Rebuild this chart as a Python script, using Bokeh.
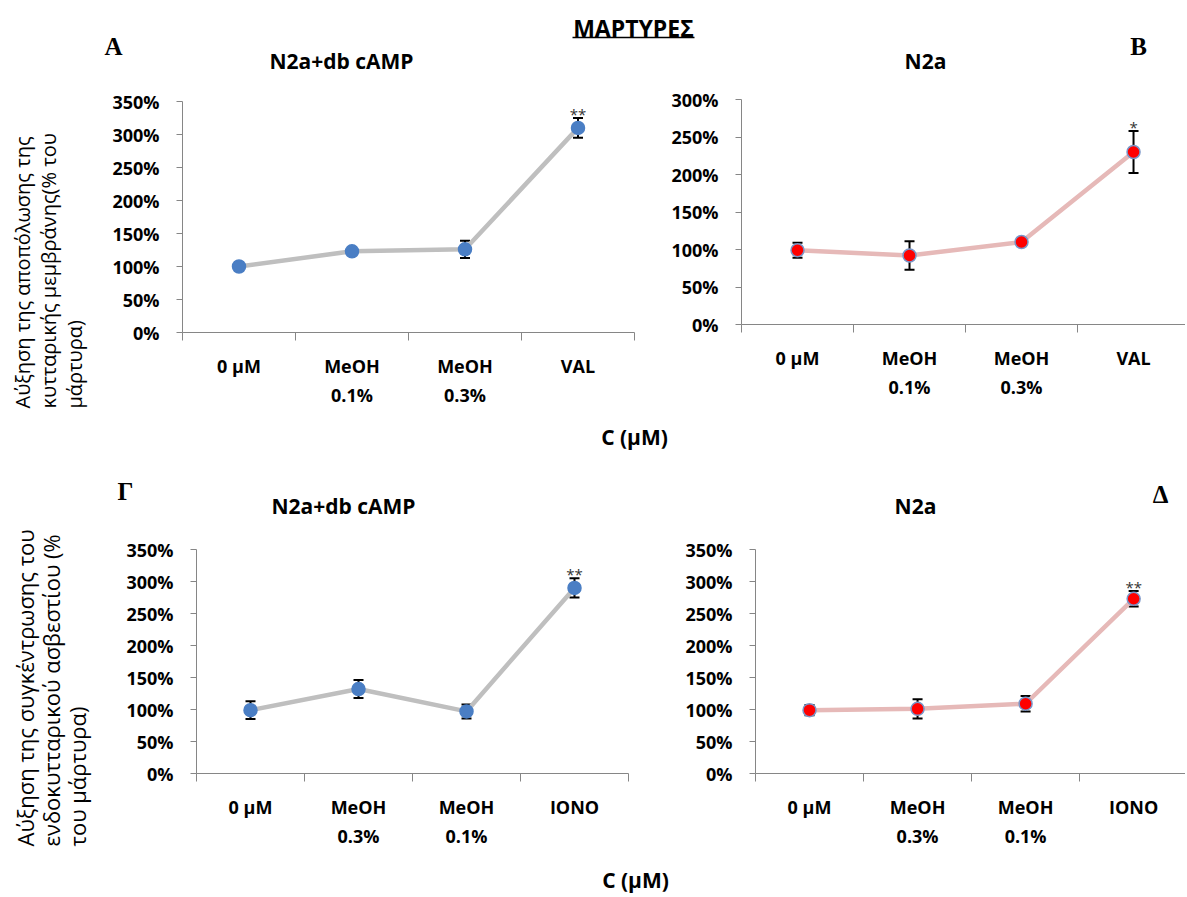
import numpy as np
from bokeh.plotting import figure
from bokeh.models import (Range1d, FixedTicker, Whisker, TeeHead, ColumnDataSource, Label)
from bokeh.core.properties import value
from bokeh.layouts import column, row
from bokeh.embed import file_html
from bokeh.resources import INLINE

# ---------------- data ----------------
cats_top = ["0 µM", "MeOH\n0.1%", "MeOH\n0.3%", "VAL"]
cats_bot = ["0 µM", "MeOH\n0.3%", "MeOH\n0.1%", "IONO"]

A_mean = [100, 123, 126, 310]
A_err = [6, 3, 13, 15]
B_mean = [99, 92, 110, 230]
B_err = [10, 19, 2, 28]
G_mean = [99, 132, 97, 290]
G_err = [14, 14, 11, 15]
D_mean = [99, 101, 109, 273]
D_err = [8, 15, 12, 12]

A_star = "**"
B_star = "*"
G_star = "**"
D_star = "**"

yticks_350 = [0, 50, 100, 150, 200, 250, 300, 350]
yticks_300 = [0, 50, 100, 150, 200, 250, 300]

main_title = "ΜΑΡΤΥΡΕΣ"
x_title = "C (µM)"
title_camp = "N2a+db cAMP"
title_n2a = "N2a"
ylab_top = ["Αύξηση της αποπόλωσης της", "κυτταρικής μεμβράνης(% του", "μάρτυρα)"]
ylab_bot = ["Αύξηση της συγκέντρωσης του", "ενδοκυτταρικού ασβεστίου (%", "του μάρτυρα)"]

# ---------------- style ----------------
FONT = "Open Sans"
SERIF = "Liberation Serif"
AXIS_COL = "#868686"
TOTAL_W = 1185


def bare(w, h, x0, y0):
    """A figure whose frame covers its whole canvas, mapped to page pixels."""
    p = figure(width=w, height=h, x_range=Range1d(x0, x0 + w), y_range=Range1d(y0 + h, y0),
               output_backend="svg", toolbar_location=None, title=None,
               x_axis_location=None, y_axis_location=None,
               min_border_left=0, min_border_right=0, min_border_top=0, min_border_bottom=0)
    p.outline_line_color = None
    p.grid.visible = False
    return p


def txt(p, x, y, text, size, bold=True, font=FONT, **kw):
    p.add_layout(Label(x=x, y=y, text=text, text_font=font,
                       text_font_style="bold" if bold else "normal",
                       text_font_size=size, text_color="black",
                       text_align=kw.pop("align", "center"),
                       text_baseline=kw.pop("baseline", "middle"), **kw))


def ylabel_lines(p, lines, xs, ybottom, size):
    p.text(x=xs, y=[ybottom] * len(lines), text=lines, angle=np.pi / 2,
           text_align="left", text_baseline="middle", text_font=value(FONT),
           text_font_size=size, text_color="black")


def panel(w, h, frame, xend, ymax, yticks, cats, mean, err, star,
          line_col, fill_col, edge_col):
    fx0, fx1, fy_top, fy_bot, ox, oy = frame
    p = figure(width=w, height=h, x_range=Range1d(0, xend), y_range=Range1d(0, ymax),
               output_backend="svg", toolbar_location=None, title=None,
               min_border_left=fx0 - ox, min_border_right=w - (fx1 - ox),
               min_border_top=fy_top - oy, min_border_bottom=h - (fy_bot - oy))
    p.outline_line_color = None
    p.grid.visible = False

    n = len(cats)
    xs = list(np.arange(n) + 0.5)

    xa = p.xaxis[0]
    xa.ticker = FixedTicker(ticks=xs, minor_ticks=list(range(n + 1)))
    xa.major_label_overrides = {float(x): c for x, c in zip(xs, cats)}
    xa.major_tick_line_color = None
    xa.major_tick_out = 0
    xa.major_tick_in = 0
    xa.minor_tick_line_color = AXIS_COL
    xa.minor_tick_out = 8
    xa.minor_tick_in = 0
    xa.axis_line_color = AXIS_COL
    xa.major_label_text_font = FONT
    xa.major_label_text_font_style = "bold"
    xa.major_label_text_font_size = "18px"
    xa.major_label_text_color = "black"
    xa.major_label_text_line_height = 1.22
    xa.major_label_standoff = 13

    ya = p.yaxis[0]
    ya.ticker = FixedTicker(ticks=yticks, minor_ticks=[])
    ya.major_label_overrides = {t: f"{t}%" for t in yticks}
    ya.axis_line_color = AXIS_COL
    ya.major_tick_line_color = AXIS_COL
    ya.major_tick_out = 6
    ya.major_tick_in = 0
    ya.minor_tick_line_color = None
    ya.major_label_text_font = FONT
    ya.major_label_text_font_style = "bold"
    ya.major_label_text_font_size = "18px"
    ya.major_label_text_color = "black"
    ya.major_label_standoff = 17

    src = ColumnDataSource(dict(x=xs, y=mean,
                                upper=[m + e for m, e in zip(mean, err)],
                                lower=[m - e for m, e in zip(mean, err)]))
    p.line("x", "y", source=src, line_color=line_col, line_width=4.5)
    wk = Whisker(source=src, base="x", upper="upper", lower="lower", dimension="height",
                 line_color="black", line_width=2,
                 upper_head=TeeHead(size=10, line_color="black", line_width=2),
                 lower_head=TeeHead(size=10, line_color="black", line_width=2))
    p.add_layout(wk)
    p.scatter("x", "y", source=src, size=13, fill_color=fill_col, line_color=edge_col,
              line_width=1.5)

    p.add_layout(Label(x=xs[-1], y=mean[-1] + err[-1], text=star, text_align="center",
                       text_baseline="alphabetic", y_offset=4, text_font=FONT,
                       text_font_size="15px", text_color="#333333"))
    return p


# ---------------- header (page y 0..86) ----------------
header = bare(TOTAL_W, 86, 0, 0)
txt(header, 633, 27, main_title, "23px")
header.segment(x0=[572], x1=[694], y0=[37], y1=[37], line_color="black", line_width=1.5)
txt(header, 113, 46, "A", "25px", font=SERIF)
txt(header, 1138, 46, "B", "25px", font=SERIF)
txt(header, 341, 60, title_camp, "21px")
txt(header, 925, 60, title_n2a, "21px")

# ---------------- top row (page y 86..420) ----------------
ylabA = bare(100, 334, 0, 86)
ylabel_lines(ylabA, ylab_top, [22, 48, 74], 408, "20px")

pA = panel(545, 334, (182, 634, 101, 332, 100, 86), 4, 350, yticks_350, cats_top,
           A_mean, A_err, A_star, "#BFBFBF", "#4A7EC4", "#4A7EC4")
pB = panel(540, 334, (741, 1185, 99, 324, 645, 86), 3.964, 300, yticks_300, cats_top,
           B_mean, B_err, B_star, "#E6B9B8", "#FF0000", "#7A96C8")

strip1 = bare(TOTAL_W, 50, 0, 420)
txt(strip1, 634, 436, x_title, "21px")

# ---------------- bottom row (page y 470..858) ----------------
ylabG = bare(100, 388, 0, 470)
ylabel_lines(ylabG, ylab_bot, [24, 50, 76], 846, "22px")

titles2 = bare(1085, 66, 100, 470)
txt(titles2, 125, 491, "Γ", "25px", font=SERIF)
txt(titles2, 1160, 494, "Δ", "25px", font=SERIF)
txt(titles2, 343, 505, title_camp, "21px")
txt(titles2, 915, 505, title_n2a, "21px")

pG = panel(550, 322, (196, 628, 549, 773, 100, 536), 4, 350, yticks_350, cats_bot,
           G_mean, G_err, G_star, "#BFBFBF", "#4A7EC4", "#4A7EC4")
pD = panel(535, 322, (755, 1185, 549, 773, 650, 536), 3.98, 350, yticks_350, cats_bot,
           D_mean, D_err, D_star, "#E6B9B8", "#FF0000", "#7A96C8")

strip2 = bare(TOTAL_W, 37, 0, 858)
txt(strip2, 635, 879, x_title, "21px")

# each plot in its own column so that rows do not align the plot frames
layout = column(
    header,
    row(column(ylabA), column(pA), column(pB)),
    strip1,
    row(column(ylabG), column(titles2, row(column(pG), column(pD)))),
    strip2,
)

open("out.html", "w").write(file_html(layout, INLINE, "chart"))
